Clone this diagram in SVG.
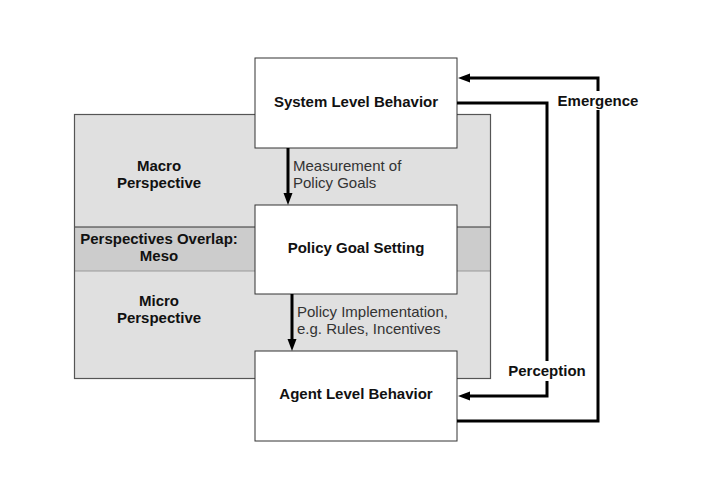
<svg xmlns="http://www.w3.org/2000/svg" width="712" height="482" viewBox="0 0 712 482">
<defs>
<style>
.t{font-family:"Liberation Sans",Arial,sans-serif;font-size:15px;fill:#111}
.b{font-weight:bold;text-anchor:middle}
.r{fill:#333}
.box{fill:#fff;stroke:#333;stroke-width:1}
.conn{fill:none;stroke:#000;stroke-width:3}
</style>
<marker id="ah" markerUnits="userSpaceOnUse" markerWidth="13" markerHeight="10" refX="0" refY="4.5" orient="auto">
<path d="M0,0 L12,4.5 L0,9 z" fill="#000"/>
</marker>
</defs>
<rect width="712" height="482" fill="#fff"/>
<g id="perspectives">
<rect x="74" y="114" width="417" height="113" fill="#e0e0e0"/>
<rect x="74" y="227" width="417" height="44" fill="#cccccc"/>
<rect x="74" y="271" width="417" height="108" fill="#e0e0e0"/>
<line x1="74" y1="227" x2="491" y2="227" stroke="#333" stroke-width="1"/>
<line x1="74" y1="271" x2="491" y2="271" stroke="#999" stroke-width="1"/>
<rect x="74.5" y="114.5" width="416" height="264" fill="none" stroke="#555" stroke-width="1.2"/>
<text class="t b" x="159" y="171">Macro</text>
<text class="t b" x="159" y="188">Perspective</text>
<text class="t b" x="159" y="244">Perspectives Overlap:</text>
<text class="t b" x="159" y="261">Meso</text>
<text class="t b" x="159" y="306">Micro</text>
<text class="t b" x="159" y="323">Perspective</text>
</g>
<g id="system">
<rect class="box" x="255" y="58" width="202" height="90"/>
<text class="t b" x="356" y="107">System Level Behavior</text>
</g>
<g id="policy">
<rect class="box" x="255" y="205" width="202" height="89"/>
<text class="t b" x="356" y="253">Policy Goal Setting</text>
</g>
<g id="agent">
<rect class="box" x="255" y="351" width="202" height="90"/>
<text class="t b" x="356" y="399">Agent Level Behavior</text>
</g>
<g id="connectors">
<path class="conn" d="M288,148 V193" marker-end="url(#ah)"/>
<text class="t r" x="293" y="171">Measurement of</text>
<text class="t r" x="293" y="188">Policy Goals</text>
<path class="conn" d="M292,294 V339" marker-end="url(#ah)"/>
<text class="t r" x="297" y="317">Policy Implementation,</text>
<text class="t r" x="297" y="334">e.g. Rules, Incentives</text>
<path class="conn" d="M457,421 H598 V78 H470" marker-end="url(#ah)"/>
<path class="conn" d="M457,103 H547 V396 H470" marker-end="url(#ah)"/>
<rect x="557" y="91" width="82" height="19" fill="#fff"/>
<text class="t b" x="598" y="105.5">Emergence</text>
<rect x="506" y="361" width="82" height="20" fill="#fff"/>
<text class="t b" x="547" y="375.5">Perception</text>
</g>
</svg>
